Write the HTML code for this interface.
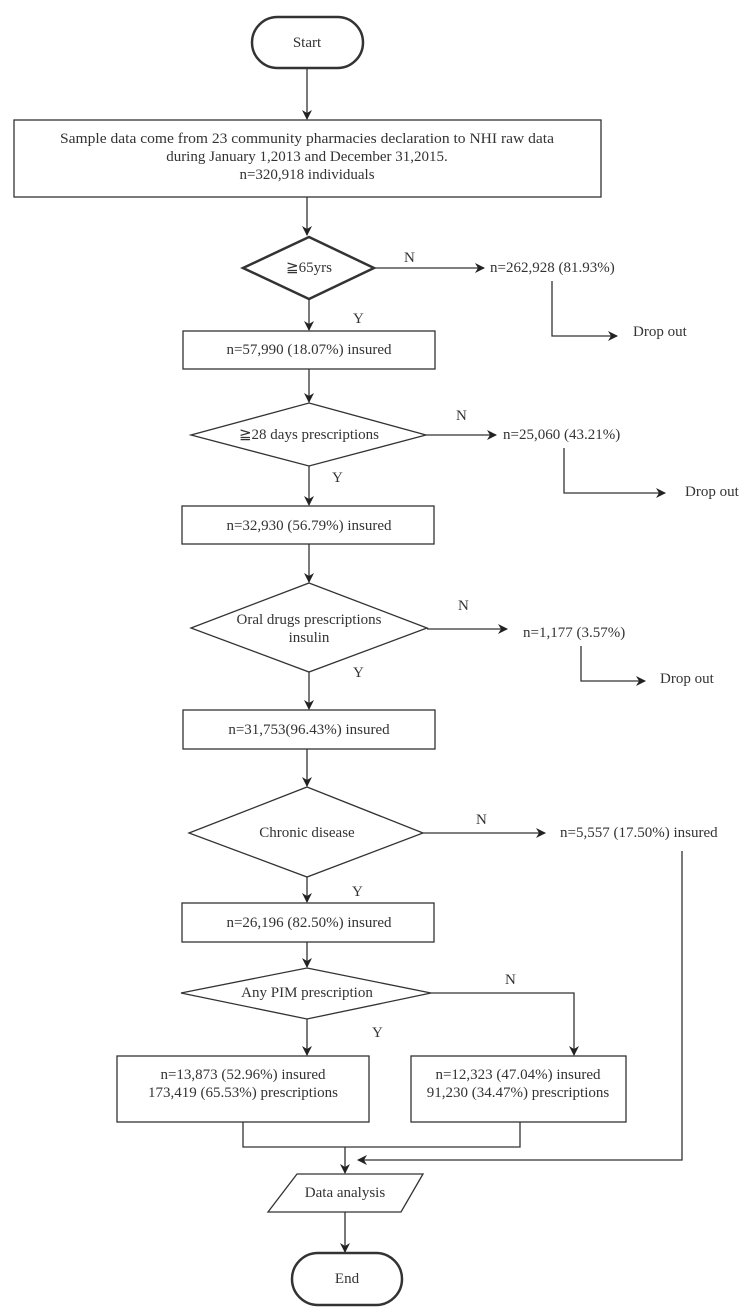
<!DOCTYPE html>
<html><head><meta charset="utf-8"><style>
html,body{margin:0;padding:0;background:#fff;}
svg{display:block;}
text{font-family:"Liberation Serif","DejaVu Serif",serif;font-size:15px;fill:#333;}
</style></head><body>
<svg width="752" height="1315" viewBox="0 0 752 1315" xmlns="http://www.w3.org/2000/svg">
<defs>
<marker id="a" markerWidth="10" markerHeight="10" refX="9" refY="5" orient="auto" markerUnits="userSpaceOnUse">
<path d="M0,0 L10,5 L0,10 L3,5 Z" fill="#222"/>
</marker>
</defs>
<g stroke="#333" stroke-width="1.3" fill="none">
<!-- Start -->
<rect x="252" y="17" width="111" height="51" rx="25.5" stroke-width="2.5"/>
<line x1="307" y1="68" x2="307" y2="119" marker-end="url(#a)"/>
<rect x="14" y="120" width="587" height="77"/>
<line x1="307" y1="197" x2="307" y2="235" marker-end="url(#a)"/>
<polygon points="309,237 374,268 309,299 243,268" stroke-width="2.5"/>
<line x1="374" y1="268" x2="484" y2="268" marker-end="url(#a)"/>
<polyline points="552,281 552,336 617,336" marker-end="url(#a)"/>
<line x1="309" y1="299" x2="309" y2="330" marker-end="url(#a)"/>
<rect x="183" y="331" width="252" height="38"/>
<line x1="309" y1="369" x2="309" y2="402" marker-end="url(#a)"/>
<polygon points="309,403 426,435 309,466 191,435"/>
<line x1="426" y1="435" x2="496" y2="435" marker-end="url(#a)"/>
<polyline points="564,448 564,493 665,493" marker-end="url(#a)"/>
<line x1="309" y1="466" x2="309" y2="505" marker-end="url(#a)"/>
<rect x="182" y="506" width="252" height="38"/>
<line x1="309" y1="544" x2="309" y2="582" marker-end="url(#a)"/>
<polygon points="309,583 427,628 309,672 191,628"/>
<line x1="427" y1="629" x2="507" y2="629" marker-end="url(#a)"/>
<polyline points="581,646 581,681 645,681" marker-end="url(#a)"/>
<line x1="309" y1="672" x2="309" y2="709" marker-end="url(#a)"/>
<rect x="183" y="710" width="252" height="39"/>
<line x1="307" y1="749" x2="307" y2="786" marker-end="url(#a)"/>
<polygon points="307,787 423,833 307,877 189,833"/>
<line x1="423" y1="833" x2="545" y2="833" marker-end="url(#a)"/>
<polyline points="682,851 682,1160 358,1160" marker-end="url(#a)"/>
<line x1="307" y1="877" x2="307" y2="902" marker-end="url(#a)"/>
<rect x="182" y="903" width="252" height="39"/>
<line x1="307" y1="942" x2="307" y2="967" marker-end="url(#a)"/>
<polygon points="307,968 431,993 307,1019 181,993"/>
<polyline points="431,993 574,993 574,1055" marker-end="url(#a)"/>
<line x1="307" y1="1019" x2="307" y2="1055" marker-end="url(#a)"/>
<rect x="117" y="1056" width="252" height="66"/>
<rect x="411" y="1056" width="215" height="66"/>
<polyline points="243,1122 243,1147 520,1147 520,1122"/>
<line x1="345" y1="1147" x2="345" y2="1173" marker-end="url(#a)"/>
<polygon points="297,1174 423,1174 401,1212 268,1212"/>
<line x1="345" y1="1212" x2="345" y2="1252" marker-end="url(#a)"/>
<rect x="292" y="1253" width="110" height="52" rx="26" stroke-width="2.5"/>
</g>
<g text-anchor="middle" dominant-baseline="central">
<text x="307" y="43">Start</text>
<text x="307" y="139" textLength="494" lengthAdjust="spacingAndGlyphs">Sample data come from 23 community pharmacies declaration to NHI raw data</text>
<text x="307" y="157">during January 1,2013 and December 31,2015.</text>
<text x="307" y="175">n=320,918 individuals</text>
<text x="309" y="268">≧65yrs</text>
<text x="309" y="350">n=57,990 (18.07%) insured</text>
<text x="309" y="435">≧28 days prescriptions</text>
<text x="309" y="526">n=32,930 (56.79%) insured</text>
<text x="309" y="620">Oral drugs prescriptions</text>
<text x="309" y="638">insulin</text>
<text x="309" y="730">n=31,753(96.43%) insured</text>
<text x="307" y="833">Chronic disease</text>
<text x="309" y="923">n=26,196 (82.50%) insured</text>
<text x="307" y="993">Any PIM prescription</text>
<text x="243" y="1075">n=13,873 (52.96%) insured</text>
<text x="243" y="1093">173,419 (65.53%) prescriptions</text>
<text x="518" y="1075">n=12,323 (47.04%) insured</text>
<text x="518" y="1093">91,230 (34.47%) prescriptions</text>
<text x="345" y="1193">Data analysis</text>
<text x="347" y="1279">End</text>
</g>
<g dominant-baseline="central">
<text x="404" y="258">N</text>
<text x="353" y="319">Y</text>
<text x="490" y="268">n=262,928 (81.93%)</text>
<text x="633" y="332">Drop out</text>
<text x="456" y="416">N</text>
<text x="332" y="478">Y</text>
<text x="503" y="435">n=25,060 (43.21%)</text>
<text x="685" y="492">Drop out</text>
<text x="458" y="606">N</text>
<text x="353" y="673">Y</text>
<text x="523" y="633">n=1,177 (3.57%)</text>
<text x="660" y="679">Drop out</text>
<text x="476" y="820">N</text>
<text x="352" y="892">Y</text>
<text x="560" y="833">n=5,557 (17.50%) insured</text>
<text x="505" y="980">N</text>
<text x="372" y="1033">Y</text>
</g>
</svg>
</body></html>
